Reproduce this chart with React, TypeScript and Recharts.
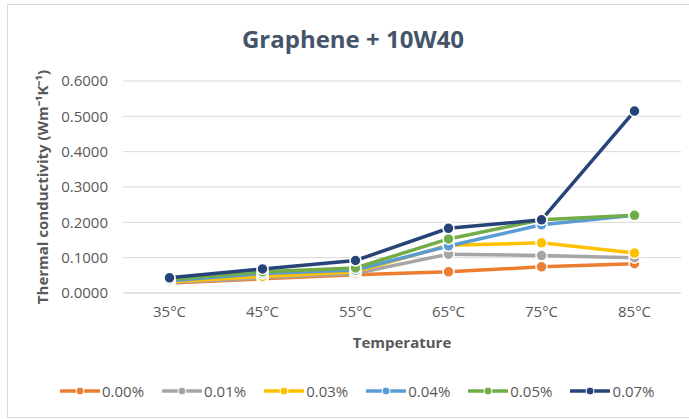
import { LineChart, Line, XAxis, YAxis, CartesianGrid } from 'recharts';

const temperatures = ['35°C', '45°C', '55°C', '65°C', '75°C', '85°C'];
const conc000 = [0.028, 0.040, 0.052, 0.060, 0.074, 0.083];
const conc001 = [0.030, 0.043, 0.055, 0.110, 0.106, 0.100];
const conc003 = [0.032, 0.047, 0.060, 0.135, 0.142, 0.113];
const conc004 = [0.035, 0.055, 0.065, 0.133, 0.193, 0.220];
const conc005 = [0.038, 0.060, 0.071, 0.153, 0.207, 0.220];
const conc007 = [0.043, 0.068, 0.092, 0.183, 0.207, 0.515];
const yTicks = [0, 0.1, 0.2, 0.3, 0.4, 0.5, 0.6];
const boundaryTicks = [0, 1, 2, 3, 4, 5, 6];

const series = [
  { key: 'c000', name: '0.00%', color: '#ED7D31', values: conc000 },
  { key: 'c001', name: '0.01%', color: '#A5A5A5', values: conc001 },
  { key: 'c003', name: '0.03%', color: '#FFC000', values: conc003 },
  { key: 'c004', name: '0.04%', color: '#5B9BD5', values: conc004 },
  { key: 'c005', name: '0.05%', color: '#70AD47', values: conc005 },
  { key: 'c007', name: '0.07%', color: '#264478', values: conc007 },
];

const data = temperatures.map((t, i) => {
  const row: Record<string, string | number> = { temp: t };
  series.forEach((s) => {
    row[s.key] = s.values[i];
  });
  return row;
});

const FONT = '"Open Sans", sans-serif';
const TEXT = '#595959';

export default function App() {
  return (
    <div style={{ position: 'absolute', left: 0, top: 0, width: 689, height: 419, background: '#fff', fontFamily: FONT, overflow: 'hidden' }}>
      <div style={{ position: 'absolute', left: 7, top: 4, width: 700, height: 412, border: '1px solid #d9d9d9' }} />
      <div style={{ position: 'absolute', left: 0, width: 706, top: 22, textAlign: 'center', fontSize: 24, fontWeight: 700, color: '#44546A' }}>
        Graphene + 10W40
      </div>
      <div
        style={{
          position: 'absolute', left: 42, top: 187, transform: 'translate(-50%, -50%) rotate(-90deg)',
          whiteSpace: 'nowrap', fontSize: 15, fontWeight: 700, color: TEXT,
        }}
      >
        Thermal conductivity (Wm⁻¹K⁻¹)
      </div>
      <div style={{ position: 'absolute', left: 123, width: 558, top: 332, textAlign: 'center', fontSize: 15, fontWeight: 700, color: TEXT }}>
        Temperature
      </div>
      <LineChart width={689} height={419} data={data} margin={{ top: 81, right: 8, left: 0, bottom: 96 }} style={{ position: 'absolute', left: 0, top: 0 }}>
        <CartesianGrid vertical={false} stroke="#d9d9d9" />
        <XAxis
          xAxisId="bounds"
          type="number"
          domain={[0, 6]}
          ticks={boundaryTicks}
          tick={false}
          axisLine={false}
          tickLine={{ stroke: '#d9d9d9' }}
          tickSize={5}
          height={0}
          allowDataOverflow
        />
        <XAxis
          dataKey="temp"
          axisLine={{ stroke: '#d9d9d9' }}
          tickLine={false}
          tickSize={0}
          tickMargin={13}
          height={30}
          padding={{ left: 46.5, right: 46.5 }}
          tick={{ fill: TEXT, fontSize: 15, fontFamily: FONT }}
        />
        <YAxis
          width={123}
          domain={[0, 0.6]}
          ticks={yTicks}
          axisLine={false}
          tickLine={false}
          tickSize={0}
          tickMargin={15}
          tickFormatter={(v: number) => v.toFixed(4)}
          tick={{ fill: TEXT, fontSize: 15, fontFamily: FONT }}
        />
        {series.map((s) => (
          <Line
            key={s.key}
            type="linear"
            dataKey={s.key}
            name={s.name}
            stroke={s.color}
            strokeWidth={3.5}
            dot={{ r: 5.5, fill: s.color, stroke: '#fff', strokeWidth: 1.5 }}
            activeDot={false}
            isAnimationActive={false}
          />
        ))}
      </LineChart>
      <div style={{ position: 'absolute', left: 60, top: 381, display: 'flex', alignItems: 'center' }}>
        {series.map((s) => (
          <div key={s.key} style={{ display: 'flex', alignItems: 'center', marginRight: 18 }}>
            <svg width={40} height={12}>
              <line x1={1} y1={6} x2={39} y2={6} stroke={s.color} strokeWidth={3.5} strokeLinecap="round" />
              <circle cx={20} cy={6} r={4} fill={s.color} stroke="#fff" strokeWidth={1} />
            </svg>
            <span style={{ fontSize: 15, color: TEXT, marginLeft: 2 }}>{s.name}</span>
          </div>
        ))}
      </div>
    </div>
  );
}
